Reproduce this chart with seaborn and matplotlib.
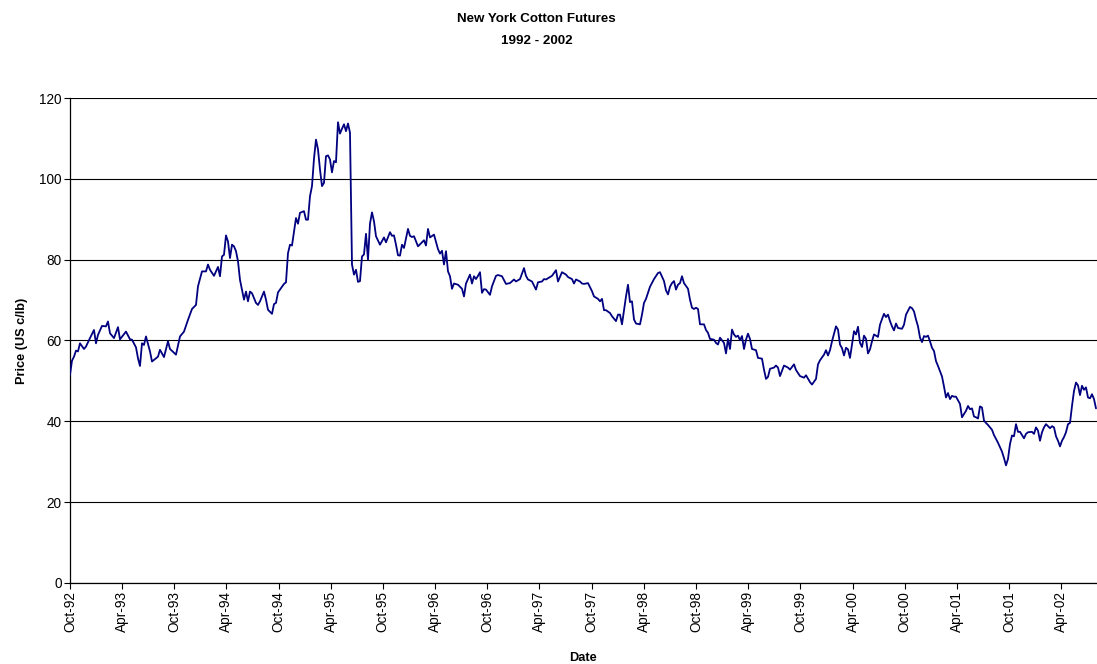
import numpy as np
import pandas as pd
import matplotlib
matplotlib.use("Agg")
import matplotlib.pyplot as plt
import matplotlib.dates as mdates
import seaborn as sns

# Weekly settlement prices, NY cotton futures (US cents per lb).
# `week` counts weeks from the start of October 1992.
week = [
    0, 1, 2, 3, 4, 5, 7, 8, 10, 12, 13, 14, 16, 18, 19, 20, 22, 24, 25, 28,
    30, 31, 33, 34, 35, 36, 37, 38, 40, 41, 43, 44, 45, 47, 49, 50, 53, 55, 57, 59,
    61, 63, 64, 66, 68, 69, 70, 72, 74, 75, 76, 77, 78, 79, 80, 81, 82, 83, 84, 85,
    87, 88, 89, 90, 91, 93, 94, 95, 97, 98, 99, 101, 102, 103, 104, 105, 107, 108, 109, 110,
    111, 113, 114, 115, 117, 118, 119, 120, 121, 122, 123, 124, 125, 126, 127, 128, 129, 130, 131, 132,
    133, 134, 135, 136, 137, 138, 139, 140, 141, 142, 143, 144, 145, 146, 147, 148, 149, 150, 151, 152,
    153, 155, 157, 158, 160, 161, 162, 163, 164, 165, 166, 167, 169, 170, 171, 172, 174, 176, 177, 178,
    179, 180, 182, 184, 185, 186, 187, 188, 189, 190, 191, 192, 194, 196, 197, 198, 200, 201, 202, 203,
    204, 205, 206, 207, 208, 210, 211, 213, 214, 216, 218, 220, 222, 223, 225, 227, 228, 229, 231, 233,
    234, 236, 237, 238, 240, 241, 243, 244, 246, 248, 249, 251, 252, 253, 255, 256, 257, 259, 261, 262,
    264, 265, 266, 267, 268, 270, 271, 273, 274, 275, 276, 278, 279, 280, 281, 282, 283, 285, 286, 287,
    288, 290, 292, 294, 295, 297, 298, 299, 300, 301, 302, 303, 304, 305, 306, 307, 309, 310, 311, 312,
    313, 314, 315, 317, 318, 319, 320, 322, 323, 324, 325, 327, 328, 329, 330, 331, 332, 333, 334, 335,
    336, 337, 338, 339, 340, 341, 343, 344, 346, 347, 348, 349, 350, 352, 353, 354, 355, 357, 359, 360,
    362, 363, 365, 367, 368, 370, 371, 373, 374, 375, 377, 378, 379, 380, 381, 382, 383, 384, 385, 386,
    387, 388, 389, 390, 392, 393, 394, 395, 396, 397, 398, 399, 400, 401, 402, 404, 405, 406, 407, 408,
    409, 410, 411, 412, 413, 414, 416, 417, 418, 420, 421, 422, 423, 424, 425, 426, 427, 428, 429, 430,
    431, 432, 433, 434, 436, 437, 438, 439, 440, 441, 442, 443, 445, 446, 448, 449, 450, 451, 452, 453,
    454, 455, 456, 457, 458, 459, 460, 461, 462, 464, 466, 467, 468, 469, 470, 471, 472, 473, 474, 475,
    476, 477, 478, 479, 481, 482, 483, 484, 485, 486, 487, 488, 490, 491, 492, 493, 494, 495, 496, 497,
    498, 499, 500, 501, 502, 503, 504, 505, 506, 507, 508, 509, 510, 511, 512, 513,
]
price = [
    51.5, 55.0, 56.0, 57.5, 57.3, 59.3, 57.9, 58.5, 60.6, 62.6, 59.3, 61.4, 63.6, 63.5, 64.7, 61.8, 60.6, 63.3, 60.3, 62.2,
    60.3, 60.2, 58.3, 55.6, 53.7, 59.3, 58.9, 61.0, 57.3, 54.8, 55.6, 56.0, 57.7, 55.9, 59.8, 57.9, 56.5, 61.0, 62.2, 65.1,
    67.8, 68.8, 73.4, 77.1, 77.1, 78.8, 77.5, 76.0, 78.2, 75.9, 80.8, 81.2, 86.0, 84.5, 80.4, 83.7, 83.3, 82.1, 79.6, 75.0,
    70.1, 72.1, 69.7, 72.1, 71.7, 69.3, 68.8, 69.7, 72.1, 70.1, 67.6, 66.6, 69.0, 69.3, 71.9, 72.6, 74.0, 74.4, 81.6, 83.7,
    83.5, 90.3, 88.9, 91.6, 92.0, 89.9, 89.9, 95.7, 98.2, 105.0, 109.7, 107.3, 102.3, 98.2, 99.0, 105.6, 105.8, 104.8, 101.6, 104.4,
    104.1, 114.0, 111.2, 112.4, 113.5, 111.8, 113.7, 111.4, 78.8, 76.3, 77.5, 74.5, 74.7, 80.8, 81.3, 86.4, 80.0, 88.9, 91.7, 89.5,
    85.8, 83.7, 85.5, 84.3, 86.8, 85.9, 86.0, 83.7, 81.1, 81.0, 83.7, 82.9, 87.6, 85.9, 85.6, 85.8, 83.3, 84.3, 84.8, 83.5,
    87.6, 85.5, 86.2, 82.6, 81.5, 82.2, 78.8, 82.1, 77.1, 75.9, 72.8, 74.1, 73.8, 72.8, 70.9, 74.1, 76.3, 74.1, 75.9, 75.2,
    76.0, 76.9, 71.8, 72.7, 72.6, 71.3, 73.4, 76.0, 76.2, 75.9, 74.0, 74.2, 75.1, 74.6, 75.2, 77.9, 76.0, 75.1, 74.6, 72.6,
    74.4, 74.6, 75.2, 75.1, 75.7, 76.0, 77.4, 74.6, 76.9, 76.3, 75.7, 75.2, 74.1, 75.1, 74.6, 74.1, 74.0, 74.2, 72.2, 70.9,
    70.3, 69.7, 70.3, 67.5, 67.5, 66.8, 66.0, 64.8, 66.4, 66.4, 64.0, 70.9, 73.8, 69.5, 69.7, 65.2, 64.2, 64.0, 66.4, 69.3,
    70.3, 73.3, 75.2, 76.7, 76.9, 74.7, 72.4, 71.4, 73.3, 74.2, 74.7, 72.6, 73.8, 74.2, 75.9, 74.2, 72.8, 70.1, 68.1, 67.8,
    68.1, 67.8, 64.0, 64.0, 62.6, 61.9, 60.4, 60.2, 59.4, 59.0, 60.7, 59.4, 56.8, 60.4, 57.9, 62.7, 61.5, 60.9, 61.2, 60.1,
    61.1, 57.9, 60.2, 61.7, 60.4, 57.9, 57.6, 55.7, 55.5, 52.8, 50.5, 51.0, 53.0, 53.3, 53.8, 53.3, 51.2, 53.8, 53.3, 52.8,
    54.1, 52.7, 51.2, 50.8, 51.4, 49.7, 49.1, 50.5, 54.1, 55.1, 56.5, 57.6, 56.3, 57.6, 59.8, 61.7, 63.5, 62.7, 59.0, 58.1,
    56.3, 58.2, 57.8, 55.7, 62.3, 61.5, 63.4, 59.4, 58.4, 61.2, 60.4, 56.8, 57.8, 59.8, 61.5, 60.9, 63.9, 65.3, 66.6, 65.8,
    66.4, 64.8, 63.5, 62.5, 64.2, 63.1, 62.9, 63.9, 66.4, 68.3, 68.0, 67.2, 65.2, 63.5, 60.7, 59.6, 61.1, 60.9, 61.2, 59.8,
    58.2, 57.4, 54.9, 53.7, 51.1, 48.6, 45.9, 47.0, 45.5, 46.3, 46.1, 46.1, 44.3, 41.0, 42.6, 43.8, 43.0, 43.2, 41.2, 41.0,
    40.7, 43.7, 43.4, 40.2, 39.6, 39.1, 38.5, 37.9, 36.6, 34.7, 32.5, 30.9, 29.1, 30.7, 34.4, 36.5, 36.3, 39.3, 37.4, 37.4,
    36.6, 35.8, 36.9, 37.3, 37.4, 36.9, 38.5, 37.7, 35.2, 37.3, 38.5, 39.3, 38.3, 38.8, 38.5, 36.3, 35.2, 33.8, 35.2, 36.1,
    37.3, 39.3, 39.6, 43.8, 47.5, 49.6, 48.9, 46.5, 48.8, 47.8, 48.4, 45.9, 45.7, 46.7, 45.5, 43.2,
]

y_ticks = [0, 20, 40, 60, 80, 100, 120]

start = pd.Timestamp("1992-10-01")
df = pd.DataFrame({
    "Date": start + pd.to_timedelta(np.array(week) * 7, unit="D"),
    "Price": price,
})

sns.set_style("white")
plt.rcParams["font.family"] = ["Liberation Sans", "DejaVu Sans"]
plt.rcParams["text.color"] = "black"
plt.rcParams["axes.labelcolor"] = "black"

fig = plt.figure(figsize=(10.97, 6.64), dpi=100)
ax = fig.add_axes([0.0638, 0.122, 0.9362, 0.7304])

sns.lineplot(data=df, x="Date", y="Price", ax=ax, color="#000080",
             linewidth=1.3, zorder=3)

ax.set_ylim(0, 120)
ax.set_yticks(y_ticks)
ax.set_xlim(start, start + pd.Timedelta(days=513.5 * 7))

ax.xaxis.set_major_locator(mdates.MonthLocator(bymonth=[4, 10]))
ax.xaxis.set_major_formatter(mdates.DateFormatter("%b-%y"))
plt.setp(ax.get_xticklabels(), rotation=90)

ax.grid(axis="y", color="black", linewidth=0.8, zorder=1)
ax.grid(axis="x", visible=False)

for side in ("top", "right"):
    ax.spines[side].set_visible(False)
for side in ("left", "bottom"):
    ax.spines[side].set_color("black")
    ax.spines[side].set_linewidth(0.9)

ax.tick_params(axis="both", which="major", direction="out", length=4,
               width=0.8, color="black", labelsize=9.8, labelcolor="black",
               pad=2, left=True, bottom=True)

ax.set_xlabel("Date", fontsize=9.2, fontweight="bold", labelpad=14)
ax.set_ylabel("Price (US c/lb)", fontsize=9.2, fontweight="bold", labelpad=8)

fig.text(0.489, 0.980, "New York Cotton Futures\n1992 - 2002", ha="center",
         va="top", fontsize=9.6, fontweight="bold", linespacing=2.1)

fig.savefig("out.png", dpi=100)
